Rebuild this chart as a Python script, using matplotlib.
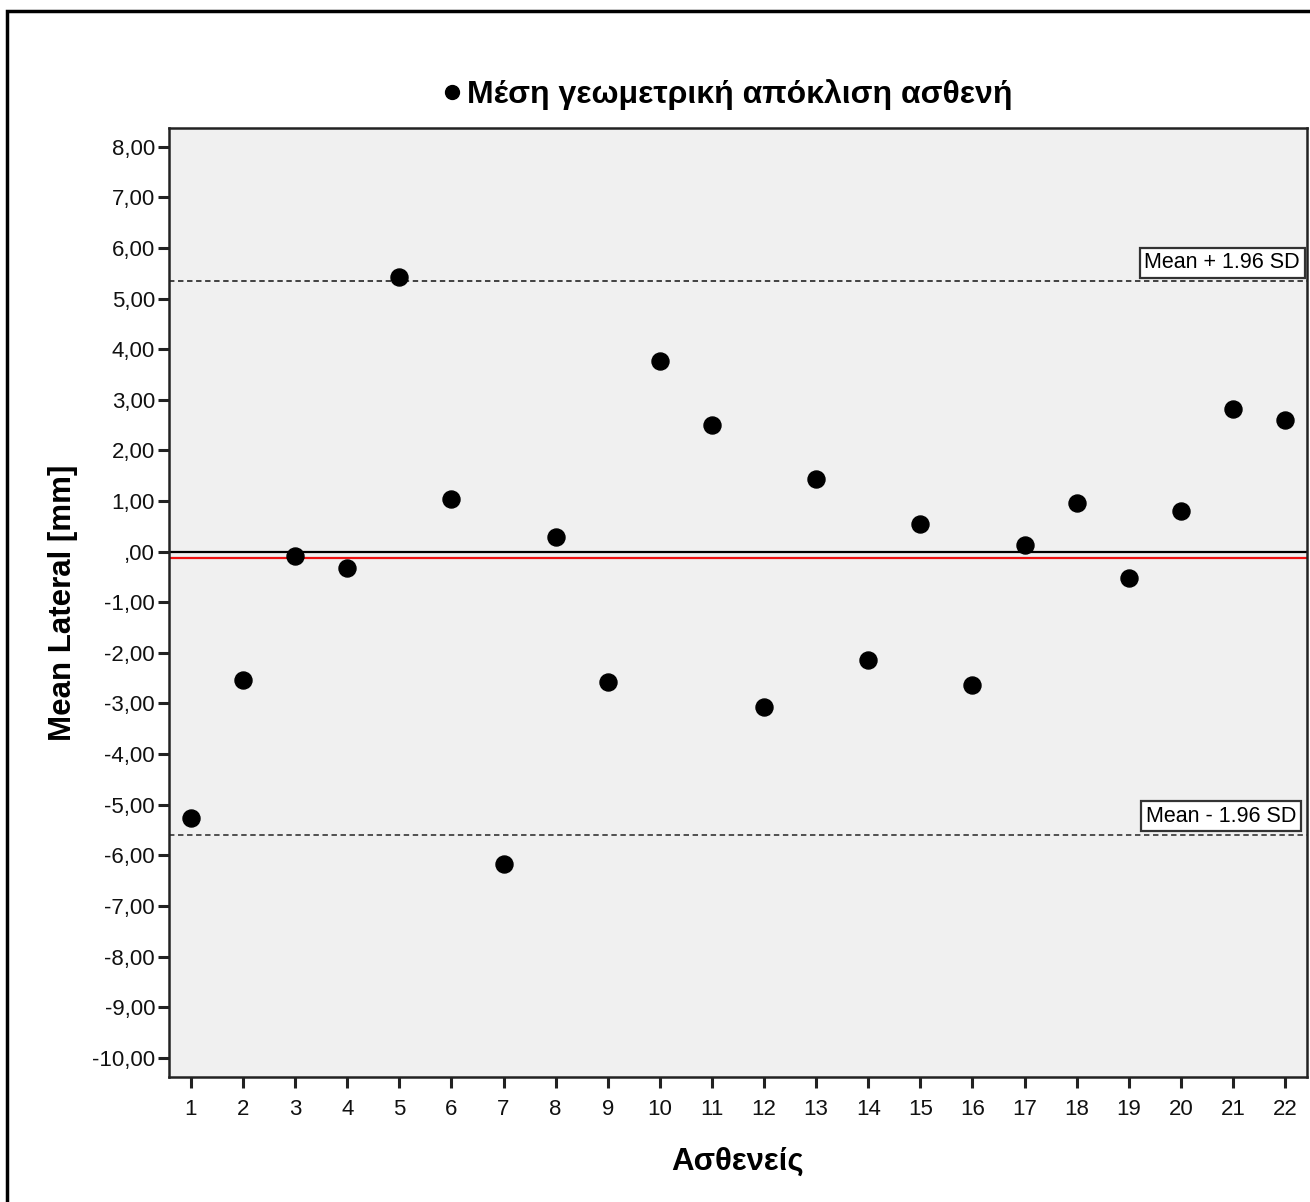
import numpy as np
import matplotlib.pyplot as plt
from matplotlib.patches import Rectangle
from matplotlib.lines import Line2D

plt.rcParams['font.family'] = ['Liberation Sans', 'DejaVu Sans']

patients = list(range(1, 23))
mean_lateral = [-5.27, -2.54, -0.09, -0.33, 5.43, 1.04, -6.18, 0.29, -2.58, 3.76, 2.50,
                -3.07, 1.43, -2.14, 0.54, -2.64, 0.13, 0.96, -0.52, 0.80, 2.82, 2.60]
mean_diff = -0.13
upper_loa = 5.35
lower_loa = -5.59
yticks = np.arange(-10, 9, 1)
ytick_labels = [",00" if v == 0 else ("%.2f" % v).replace(".", ",") for v in yticks]

fig = plt.figure(figsize=(13.1, 12.02), dpi=100)
fig.patches.append(Rectangle((7 / 1310, -0.1), 1.2, 1 - 11 / 1202 + 0.1, transform=fig.transFigure,
                             fill=False, edgecolor='black', linewidth=2.5))

ax = fig.add_axes([169 / 1310, 1 - 1077 / 1202, (1307 - 169) / 1310, (1077 - 128) / 1202])
ax.set_facecolor('#f0f0f0')
for s in ax.spines.values():
    s.set_linewidth(1.8)
    s.set_color('#222222')

ax.axhline(0, color='black', linewidth=1.6, zorder=1)
ax.axhline(mean_diff, color='#ee1111', linewidth=1.6, zorder=1)
ax.axhline(upper_loa, color='#333333', linewidth=1.3, linestyle=(0, (3, 2)), zorder=1)
ax.axhline(lower_loa, color='#444444', linewidth=1.3, linestyle=(0, (3, 2)), zorder=1)

ax.scatter(patients, mean_lateral, s=150, color='black', zorder=3)

ax.set_xlim(0.58, 22.42)
ax.set_ylim(-10.38, 8.37)
ax.set_xticks(patients)
ax.set_xticklabels([str(p) for p in patients])
ax.set_yticks(yticks)
ax.set_yticklabels(ytick_labels)
ax.tick_params(axis='both', labelsize=16, length=8, width=2.2, color='#222222', labelcolor='#111111')
ax.tick_params(axis='x', pad=8)
ax.tick_params(axis='y', pad=2)

ax.set_xlabel('Ασθενείς', fontsize=22.5, fontweight='bold', labelpad=19)
ax.set_ylabel('Mean Lateral [mm]', fontsize=22.5, fontweight='bold', labelpad=10)

box = dict(boxstyle='square,pad=0.22', facecolor='white', edgecolor='#333333', linewidth=1.6)
ax.text(1300, 263, 'Mean + 1.96 SD', transform=None, fontsize=15.5, ha='right', va='center', bbox=box)
ax.text(1296, 816, 'Mean - 1.96 SD', transform=None, fontsize=15.5, ha='right', va='center', bbox=box)

handle = Line2D([], [], marker='o', color='black', linestyle='none', markersize=10)
fig.legend([handle], ['Μέση γεωμετρική απόκλιση ασθενή'], loc='center', bbox_to_anchor=(725 / 1310, 1 - 95 / 1202),
           frameon=False, handletextpad=0.0, handlelength=0.9,
           prop={'size': 23, 'weight': 'bold'})

# transform=None texts use display pixels with origin bottom-left; flip y
for t in ax.texts:
    x, y = t.get_position()
    t.set_position((x, 1202 - y))

fig.savefig('out.png', dpi=100)
